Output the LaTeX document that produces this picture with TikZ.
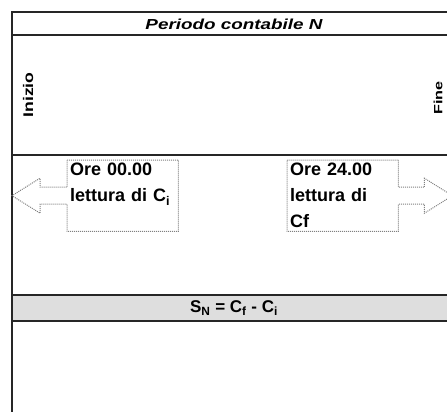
\documentclass[tikz,border=0pt]{standalone}
\usepackage{fontspec}
\setmainfont{Liberation Sans}
\usetikzlibrary{calc}

\begin{document}
\begin{tikzpicture}[x=1pt,y=-1pt,
		bordo/.style={draw=black!85, line width=2pt},
		fascia/.style={fill=black!13},
		testo/.style={font=\fontsize{18}{26}\selectfont\bfseries, text width=105pt, align=left, inner sep=3pt, minimum height=71pt, anchor=north west},
		fumetto/.style={draw=black!50, densely dotted, line width=1pt, line join=miter},
		verticale/.style={rotate=90, inner sep=1pt},
	]
	\useasboundingbox (0,0) rectangle (447,412);
	\clip (0,0) rectangle (447,412);
	% Draw frame and bands
	\fill[fascia] (12,295) rectangle (460,321);
	\draw[bordo] (460,12.5) -- (12,12.5) -- (12,420);
	\draw[bordo] (12,35.5) -- (460,35.5);
	\draw[bordo] (12,155) -- (460,155);
	\draw[bordo] (12,295) -- (460,295);
	\draw[bordo] (12,321) -- (460,321);
	% Draw labels
	\node (titolo) [font=\fontsize{14.5}{16}\selectfont\bfseries\itshape, xscale=1.3] at (234,24) {Periodo contabile N};
	\node (inizio) [verticale, font=\fontsize{14}{16}\selectfont\bfseries, xscale=1.26] at (28,95) {Inizio};
	\node (fine) [verticale, font=\fontsize{12}{14}\selectfont\bfseries, xscale=1.35] at (438,98) {Fine};
	\node (saldo) [font=\fontsize{17}{20}\selectfont\bfseries] at (234,308) {S\textsubscript{N} = C\textsubscript{f} - C\textsubscript{i}};
	% Draw reading boxes
	\node (inizioore) [testo] at (67,160) {Ore 00.00\\lettura di C\textsubscript{i}\\\mbox{}};
	\node (fineore) [testo] at (287,160) {Ore 24.00\\lettura di\\Cf};
	% Draw callout arrows
	\draw[fumetto] (inizioore.north west) -- (inizioore.north east) -- (inizioore.south east) -- (inizioore.south west)
		-- ($(inizioore.west)+(0,8.5)$) -- ++(-27,0) -- ++(0,9) -- ($(inizioore.west)+(-55,0)$)
		-- ($(inizioore.west)+(-27,-17.5)$) -- ++(0,9) -- ($(inizioore.west)+(0,-8.5)$) -- cycle;
	\draw[fumetto] (fineore.north east) -- (fineore.north west) -- (fineore.south west) -- (fineore.south east)
		-- ($(fineore.east)+(0,8.5)$) -- ++(26,0) -- ++(0,9) -- ($(fineore.east)+(54,0)$)
		-- ($(fineore.east)+(26,-17.5)$) -- ++(0,9) -- ($(fineore.east)+(0,-8.5)$) -- cycle;
\end{tikzpicture}
\end{document}
